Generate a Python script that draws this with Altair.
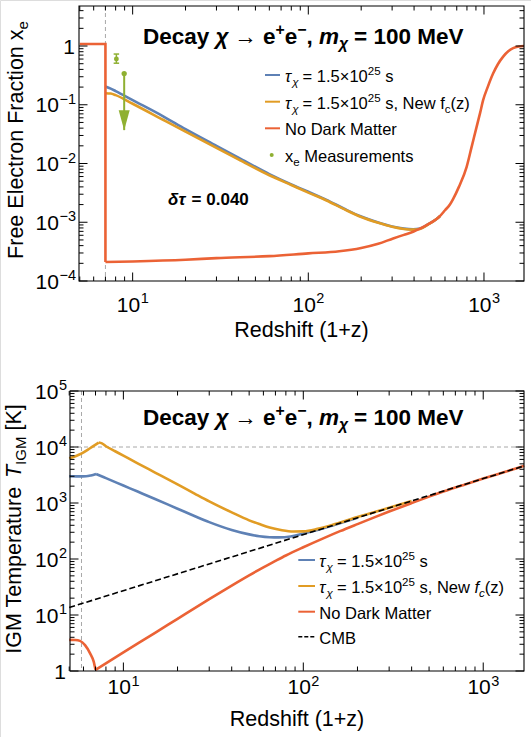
import altair as alt
import pandas as pd

FONT = "Liberation Sans"
BLUE, ORANGE, GREEN, RED = "#5E81B5", "#E19C24", "#8FB032", "#EB6235"
GUIDE = "#A8A8A8"

# ---------------- data ----------------
# top panel: free electron fraction x_e vs 1+z
XE_Z_NODM = [5.0, 7.0, 7.0, 10, 20, 30, 60, 100, 150, 200, 250, 304, 350, 395, 432, 480, 530, 561, 600, 640,
             668, 720, 797, 850, 908, 950, 989, 1050, 1127, 1200, 1286, 1380, 1466, 1580, 1690]
XE_NODM = [1.08, 1.08, 2.1e-4, 2.15e-4, 2.3e-4, 2.45e-4, 2.65e-4, 2.95e-4, 3.2e-4, 3.65e-4, 4.3e-4, 5.3e-4,
           6.1e-4, 6.9e-4, 7.8e-4, 9.2e-4, 1.1e-3, 1.27e-3, 1.6e-3, 2.0e-3, 2.5e-3, 4.0e-3, 8.8e-3, 0.019,
           0.042, 0.072, 0.12, 0.2, 0.34, 0.49, 0.66, 0.82, 0.92, 0.98, 1.0]
XE_Z_DM = [7.0, 7.5, 8, 10, 15, 20, 30, 40, 60, 80, 100, 127, 160, 200, 250, 300, 350, 395, 432, 480, 530, 561]
XE_TAU = [0.205, 0.188, 0.171, 0.12, 0.063, 0.0385, 0.0200, 0.0126, 0.0066, 0.0044, 0.0033, 0.0024, 0.0017,
          0.00125, 0.00099, 0.00085, 0.00078, 0.00076, 0.00078, 0.00092, 0.0011, 0.00127]
XE_TAU_NEW = [0.157, 0.155, 0.146, 0.104, 0.055, 0.035, 0.0185, 0.0118, 0.0063, 0.0043, 0.0032, 0.00235,
              0.00167, 0.00123, 0.00098, 0.00084, 0.00077, 0.00075, 0.00077, 0.00091, 0.0011, 0.00127]
MEAS_Z = [8.08]
MEAS_XE = [0.6]
MEAS_LO = [0.51]
MEAS_HI = [0.73]
LIM_Z = [8.95]
LIM_XE = [0.34]
LIM_TIP = [0.037]
TOP_VLINE = [7.0]

# bottom panel: IGM temperature vs 1+z
T_Z_NODM = [5.0, 5.4, 5.74, 6.12, 6.53, 6.84, 7.0, 10, 15, 20, 30, 40, 50, 60, 70, 80, 100, 130, 160, 200,
            250, 300, 400, 500, 600, 800, 1000, 1300, 1690]
T_NODM = [3.6, 3.58, 3.45, 2.9, 2.07, 1.47, 1.05, 2.15, 4.8, 8.55, 19.2, 33.5, 51, 71, 92.5, 115.6, 162, 236,
          314, 420, 559, 703, 997, 1301, 1603, 2169, 2726, 3545, 4606]
T_Z_DM_NEW = [5.0, 5.5, 5.87, 6.53, 7.3, 7.6, 8, 9, 10, 12, 15, 20, 25, 30, 40, 50, 57, 65, 75, 88, 100,
              120, 150, 200, 250, 300, 400]
T_TAU_NEW = [6300, 7000, 7700, 9500, 12000, 11600, 10300, 8400, 7000, 5100, 3500, 2150, 1460, 1070, 680,
             490, 420, 365, 330, 310, 312, 345, 420, 560, 690, 820, 1090]
T_Z_DM = [5.0, 5.5, 6.2, 6.6, 7.05, 7.5, 8, 10, 12, 15, 20, 25, 30, 40, 50, 57, 65, 73, 85, 100, 120, 150, 200]
T_TAU = [3000, 2990, 3000, 3100, 3300, 3030, 2780, 2050, 1600, 1180, 790, 580, 455, 330, 275, 255, 245, 243,
         252, 285, 330, 410, 545]
CMB_Z = [5.0, 1690]
CMB_T = [13.6, 4606]
BOT_VLINE = [5.85]
BOT_HLINE = [1e4]
KINK_Z = 7.0   # reionisation switch: curves have a corner here

# axis ticks / labels
X_MAJOR = [10, 100, 1000]
X_MAJOR_EXP = ["1", "2", "3"]
X_MINOR = [5, 6, 7, 8, 9, 20, 30, 40, 50, 60, 70, 80, 90, 200, 300, 400, 500, 600, 700, 800, 900]
Y1_MAJOR = [1e-4, 1e-3, 1e-2, 1e-1, 1]
Y1_LABEL_V = [1e-4, 1e-3, 1e-2, 1e-1]
Y1_LABEL_EXP = ["−4", "−3", "−2", "−1"]
Y1_MINOR = [m * 10.0 ** k for k in (-4, -3, -2, -1) for m in range(2, 10)] + [2, 3, 4]
Y2_MAJOR = [1, 10, 100, 1e3, 1e4, 1e5]
Y2_LABEL_V = [10, 100, 1e3, 1e4, 1e5]
Y2_LABEL_EXP = ["1", "2", "3", "4", "5"]
Y2_MINOR = [m * 10.0 ** k for k in range(0, 5) for m in range(2, 10)]

# ---------------- layout (page pixels) ----------------
PW, PH = 531, 737
P1 = dict(x0=79, x1=524, y0=6, y1=281)      # top plot frame
P2 = dict(x0=70, x1=524, y0=391, y1=671)    # bottom plot frame
FS_TICK = 21
FS_EXP = 14.5
FS_TITLE = 21.5
FS_HEAD = 22.5
FS_LEG = 16.5

ONE = pd.DataFrame({"k": [0]})

WR = {' ': .278, '(': .333, ')': .333, '+': .584, '=': .584, ',': .278, '.': .278, '[': .278, ']': .278,
      '−': .584, '×': .584, 'B': .667, 'C': .722, 'D': .722, 'E': .667, 'F': .611, 'G': .778, 'I': .278,
      'K': .667, 'M': .833, 'N': .722, 'R': .722, 'T': .611, 'V': .667, 'a': .556, 'c': .5, 'd': .556,
      'e': .556, 'f': .278, 'h': .556, 'i': .222, 'k': .5, 'l': .222, 'm': .833, 'n': .556, 'o': .556,
      'p': .556, 'r': .333, 's': .5, 't': .278, 'u': .556, 'w': .722, 'x': .5, 'y': .5, 'z': .5,
      'τ': .44, 'χ': .5, 'δ': .556}
WB = {' ': .278, ',': .278, '.': .278, '=': .584, '+': .584, '−': .584, '→': 1.0, 'D': .722, 'M': .833,
      'V': .667, 'a': .556, 'c': .556, 'e': .556, 'm': .889, 'y': .556, 'χ': .556, 'δ': .611, 'τ': .5}


def text_w(s, size, bold=False):
    t = WB if bold else WR
    return sum(t.get(c, 0.556) for c in s) * size


def rich(parts, x, y, size, bold=False, angle=0, anchor="left", color="black"):
    sizes = [size if k == "n" else size * 0.7 for _, k, _ in parts]
    widths = [text_w(t, fs, bold) for (t, _, _), fs in zip(parts, sizes)]
    total = sum(widths)
    pos = {"left": 0.0, "center": -total / 2, "right": -total}[anchor]
    out = []
    for (t, kind, ital), fs, w in zip(parts, sizes, widths):
        off = {"n": 0.0, "sup": -0.4 * size, "sub": 0.24 * size}[kind]
        lead = len(t) - len(t.lstrip(" "))
        p = pos + text_w(" " * lead, fs, bold)
        s = t.strip(" ")
        if angle == 270:
            px, py = x + off, y - p
        else:
            px, py = x + p, y + off
        kw = dict(text=s, font=FONT, fontSize=fs, fontWeight="bold" if bold else "normal",
                  fontStyle="italic" if ital else "normal", align="left", baseline="alphabetic", color=color)
        if angle:
            kw["angle"] = angle
        out.append(alt.Chart(ONE).mark_text(**kw).encode(x=alt.value(px), y=alt.value(py)))
        pos += w
    return out


def X(f, s):
    return alt.X(f, type="quantitative", scale=s, axis=None, title=None)


def Y(f, s):
    return alt.Y(f, type="quantitative", scale=s, axis=None, title=None)


def split_rows(z, v, kink=None):
    """rows with a segment id; segments meet (shared point) at the corner nearest to `kink`"""
    rows = []
    cut = None
    if kink is not None:
        diffs = [abs(a - kink) for a in z]
        cut = diffs.index(min(diffs))
    seg = 0
    for i, (a, b) in enumerate(zip(z, v)):
        rows.append({"z": a, "v": b, "i": i, "s": seg})
        if i == cut:
            seg += 1
            rows.append({"z": a, "v": b, "i": i + 0.5, "s": seg})
    return pd.DataFrame(rows)


def curve(z, v, xs, ys, color, width=2.6, dash=None, kink=None, interp="monotone"):
    df = split_rows(z, v, kink)
    kw = dict(color=color, strokeWidth=width, interpolate=interp)
    if dash:
        kw["strokeDash"] = dash
    return alt.Chart(df).mark_line(**kw).encode(x=X("z", xs), y=Y("v", ys), order=alt.Order("i:Q"),
                                                detail="s:N")


def frame(P):
    return alt.Chart(ONE).mark_rect(fillOpacity=0, stroke="black", strokeWidth=1.1).encode(
        x=alt.value(P["x0"]), x2=alt.value(P["x1"]), y=alt.value(P["y0"]), y2=alt.value(P["y1"]))


def ticks(P, xs, ys, ymaj, ymin):
    out = []
    for vals, L in ((X_MAJOR, 8.5), (X_MINOR, 4.5)):
        b = alt.Chart(pd.DataFrame({"v": vals})).mark_rule(color="black", strokeWidth=1)
        out.append(b.encode(x=X("v", xs), y=alt.value(P["y1"]), y2=alt.value(P["y1"] - L)))
        out.append(b.encode(x=X("v", xs), y=alt.value(P["y0"]), y2=alt.value(P["y0"] + L)))
    for vals, L in ((ymaj, 8.5), (ymin, 4.5)):
        b = alt.Chart(pd.DataFrame({"v": vals})).mark_rule(color="black", strokeWidth=1)
        out.append(b.encode(y=Y("v", ys), x=alt.value(P["x0"]), x2=alt.value(P["x0"] + L)))
        out.append(b.encode(y=Y("v", ys), x=alt.value(P["x1"]), x2=alt.value(P["x1"] - L)))
    return out


def x_labels(xs, base):
    df = pd.DataFrame({"v": X_MAJOR, "e": X_MAJOR_EXP})
    a = alt.Chart(df).mark_text(text="10", font=FONT, fontSize=FS_TICK, align="right", baseline="alphabetic",
                                dx=0.36 * FS_TICK).encode(x=X("v", xs), y=alt.value(base))
    b = alt.Chart(df).mark_text(font=FONT, fontSize=FS_EXP, align="left", baseline="alphabetic",
                                dx=0.36 * FS_TICK + 0.5).encode(x=X("v", xs), y=alt.value(base - 0.4 * FS_TICK),
                                                                text="e:N")
    return [a, b]


def y_labels(ys, vals, exps, right, exp_w):
    df = pd.DataFrame({"v": vals, "e": exps})
    a = alt.Chart(df).mark_text(text="10", font=FONT, fontSize=FS_TICK, align="right", baseline="alphabetic",
                                dy=0.36 * FS_TICK).encode(y=Y("v", ys), x=alt.value(right - exp_w - 0.5))
    b = alt.Chart(df).mark_text(font=FONT, fontSize=FS_EXP, align="right", baseline="alphabetic",
                                dy=0.36 * FS_TICK - 0.4 * FS_TICK).encode(y=Y("v", ys), x=alt.value(right),
                                                                          text="e:N")
    c = alt.Chart(pd.DataFrame({"v": [1]})).mark_text(text="1", font=FONT, fontSize=FS_TICK, align="right",
                                                      baseline="alphabetic", dy=0.36 * FS_TICK).encode(
        y=Y("v", ys), x=alt.value(right - 1))
    return [a, b, c]


def leg_line(x0, x1, y, color, dash=None, width=2):
    kw = dict(color=color, strokeWidth=width)
    if dash:
        kw["strokeDash"] = dash
    return alt.Chart(ONE).mark_rule(**kw).encode(x=alt.value(x0), x2=alt.value(x1), y=alt.value(y))


def title_parts():
    return [("Decay ", "n", False), ("χ", "n", True), (" → e", "n", False), ("+", "sup", False),
            ("e", "n", False), ("−", "sup", False), (", ", "n", False), ("m", "n", True), ("χ", "sub", True),
            (" = 100 MeV", "n", False)]


layers = []

# ---------------- top panel ----------------
xs1 = alt.Scale(type="log", domain=[4.95, 1690], range=[P1["x0"], P1["x1"]], nice=False)
ys1 = alt.Scale(type="log", domain=[1e-4, 4.8], range=[P1["y1"], P1["y0"]], nice=False)

layers += [
    alt.Chart(pd.DataFrame({"z": TOP_VLINE})).mark_rule(color=GUIDE, strokeWidth=1, strokeDash=[4, 3]).encode(
        x=X("z", xs1), y=alt.value(P1["y0"]), y2=alt.value(P1["y1"])),
    curve(XE_Z_DM, XE_TAU, xs1, ys1, BLUE),
    curve(XE_Z_DM, XE_TAU_NEW, xs1, ys1, ORANGE),
    curve(XE_Z_NODM[:3], XE_NODM[:3], xs1, ys1, RED, interp="linear"),
    curve(XE_Z_NODM[2:], XE_NODM[2:], xs1, ys1, RED),
]
meas = pd.DataFrame({"z": MEAS_Z, "v": MEAS_XE, "lo": MEAS_LO, "hi": MEAS_HI})
lim = pd.DataFrame({"z": LIM_Z, "v": LIM_XE, "tip": LIM_TIP})
layers += [
    alt.Chart(meas).mark_rule(color=GREEN, strokeWidth=1.5).encode(x=X("z", xs1), y=Y("lo", ys1), y2="hi"),
    alt.Chart(meas).mark_point(shape="M-1,0L1,0", size=30, color=GREEN, strokeWidth=1.5, opacity=1).encode(
        x=X("z", xs1), y=Y("lo", ys1)),
    alt.Chart(meas).mark_point(shape="M-1,0L1,0", size=30, color=GREEN, strokeWidth=1.5, opacity=1).encode(
        x=X("z", xs1), y=Y("hi", ys1)),
    alt.Chart(meas).mark_circle(color=GREEN, size=24, opacity=1).encode(x=X("z", xs1), y=Y("v", ys1)),
    alt.Chart(lim).mark_rule(color=GREEN, strokeWidth=2).encode(x=X("z", xs1), y=Y("v", ys1), y2="tip"),
    alt.Chart(lim).mark_point(shape="M-0.55,-2L0.55,-2L0,0Z", size=400, filled=True, color=GREEN,
                              opacity=1).encode(x=X("z", xs1), y=Y("tip", ys1)),
    alt.Chart(lim).mark_circle(color=GREEN, size=28, opacity=1).encode(x=X("z", xs1), y=Y("v", ys1)),
]
layers.append(frame(P1))
layers += ticks(P1, xs1, ys1, Y1_MAJOR, Y1_MINOR)
layers += x_labels(xs1, P1["y1"] + 30.5)
layers += y_labels(ys1, Y1_LABEL_V, Y1_LABEL_EXP, P1["x0"] - 3, text_w("−4", FS_EXP))
layers += rich(title_parts(), 143, 44, FS_HEAD, bold=True)
layers += rich([("δτ", "n", True), (" = 0.040", "n", False)], 168, 205, 17, bold=True)
layers += rich([("Redshift (1+z)", "n", False)], (P1["x0"] + P1["x1"]) / 2, 336.7, FS_TITLE, anchor="center")
layers += rich([("Free Electron Fraction x", "n", False), ("e", "sub", False)], 23, 140, FS_TITLE,
               angle=270, anchor="center")
# legend (top)
LT = [75, 101.7, 128.3, 155]
layers += [leg_line(265, 280, LT[0], BLUE), leg_line(265, 280, LT[1], ORANGE), leg_line(265, 280, LT[2], RED),
           alt.Chart(ONE).mark_circle(color=GREEN, size=16, opacity=1).encode(x=alt.value(271.7),
                                                                              y=alt.value(LT[3]))]
layers += rich([("τ", "n", True), ("χ", "sub", True), (" = 1.5×10", "n", False), ("25", "sup", False),
                (" s", "n", False)], 285, LT[0] + 7, FS_LEG)
layers += rich([("τ", "n", True), ("χ", "sub", True), (" = 1.5×10", "n", False), ("25", "sup", False),
                (" s, New f", "n", False), ("c", "sub", False), ("(z)", "n", False)], 285, LT[1] + 7, FS_LEG)
layers += rich([("No Dark Matter", "n", False)], 285, LT[2] + 7, FS_LEG)
layers += rich([("x", "n", False), ("e", "sub", False), (" Measurements", "n", False)], 285, LT[3] + 7, FS_LEG)

# ---------------- bottom panel ----------------
xs2 = alt.Scale(type="log", domain=[5.05, 1685], range=[P2["x0"], P2["x1"]], nice=False)
ys2 = alt.Scale(type="log", domain=[1, 1e5], range=[P2["y1"], P2["y0"]], nice=False)

layers += [
    alt.Chart(pd.DataFrame({"z": BOT_VLINE})).mark_rule(color=GUIDE, strokeWidth=1, strokeDash=[4, 3]).encode(
        x=X("z", xs2), y=alt.value(P2["y0"]), y2=alt.value(P2["y1"])),
    alt.Chart(pd.DataFrame({"t": BOT_HLINE})).mark_rule(color=GUIDE, strokeWidth=1, strokeDash=[4, 3]).encode(
        y=Y("t", ys2), x=alt.value(P2["x0"]), x2=alt.value(P2["x1"])),
    curve(T_Z_DM, T_TAU, xs2, ys2, BLUE, kink=KINK_Z),
    curve(T_Z_DM_NEW, T_TAU_NEW, xs2, ys2, ORANGE, kink=KINK_Z),
    curve(T_Z_NODM, T_NODM, xs2, ys2, RED, kink=KINK_Z),
    curve(CMB_Z, CMB_T, xs2, ys2, "black", width=1.6, dash=[6, 3], interp="linear"),
]
layers.append(frame(P2))
layers += ticks(P2, xs2, ys2, Y2_MAJOR, Y2_MINOR)
layers += x_labels(xs2, P2["y1"] + 23)
layers += y_labels(ys2, Y2_LABEL_V, Y2_LABEL_EXP, P2["x0"] - 3, text_w("5", FS_EXP))
layers += rich(title_parts(), 143, 425, FS_HEAD, bold=True)
layers += rich([("Redshift (1+z)", "n", False)], (P2["x0"] + P2["x1"]) / 2, 726, FS_TITLE, anchor="center")
layers += rich([("IGM Temperature ", "n", False), ("T", "n", True), ("IGM", "sub", False),
                (" [K]", "n", False)], 21, 529, FS_TITLE, angle=270, anchor="center")
LB = [560, 586, 611.7, 636.7]
layers += [leg_line(298.3, 315, LB[0], BLUE), leg_line(298.3, 315, LB[1], ORANGE),
           leg_line(298.3, 315, LB[2], RED), leg_line(298.3, 315, LB[3], "black", dash=[4, 2], width=1.5)]
layers += rich([("τ", "n", True), ("χ", "sub", True), (" = 1.5×10", "n", False), ("25", "sup", False),
                (" s", "n", False)], 319.3, LB[0] + 7, FS_LEG)
layers += rich([("τ", "n", True), ("χ", "sub", True), (" = 1.5×10", "n", False), ("25", "sup", False),
                (" s, New ", "n", False), ("f", "n", True), ("c", "sub", True), ("(z)", "n", False)], 319.3,
               LB[1] + 7, FS_LEG)
layers += rich([("No Dark Matter", "n", False)], 319.3, LB[2] + 7, FS_LEG)
layers += rich([("CMB", "n", False)], 319.3, LB[3] + 7, FS_LEG)

chart = alt.layer(*layers).resolve_scale(x="independent", y="independent").properties(
    width=PW, height=PH, autosize=alt.AutoSizeParams(type="none"), padding=0, background="white"
).configure_view(stroke=None).configure(font=FONT)

chart.save("out.html", embed_options={"renderer": "svg", "actions": False})
